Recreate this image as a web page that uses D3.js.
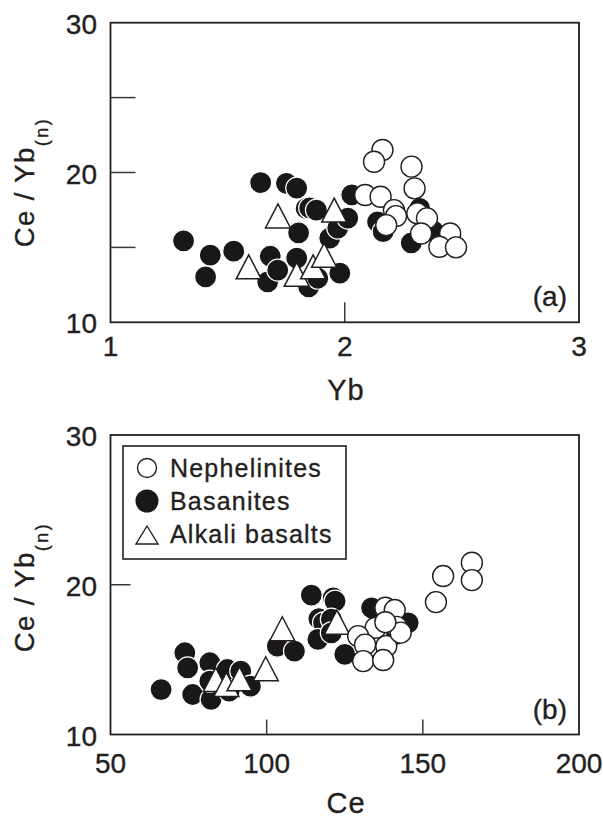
<!DOCTYPE html>
<html>
<head>
<meta charset="utf-8">
<script src="https://cdn.jsdelivr.net/npm/d3@7"></script>
<style>
  body { margin: 0; background: #fff; }
  text { font-family: "Liberation Sans", Arial, sans-serif; fill: #231f20; stroke: #231f20; stroke-width: 0.35px; }
</style>
</head>
<body>
<svg id="chart" width="603" height="818"></svg>
<script>
// panel (a): Yb vs Ce/Yb(n)
var ybNephelinites = [
  [2.161, 21.5], [2.125, 20.72], [2.087, 18.5], [2.153, 18.38], [2.285, 20.39],
  [2.298, 18.94], [2.21, 17.49], [2.219, 17.09], [2.177, 16.49], [2.31, 17.27],
  [2.351, 16.94], [2.326, 15.93], [2.45, 15.93], [2.404, 15.04], [2.475, 15.0]
];
var ybBasanites = [
  [1.312, 15.44], [1.426, 14.48], [1.406, 13.03], [1.526, 14.75], [1.641, 19.32],
  [1.751, 19.28], [1.795, 18.96], [1.835, 17.6], [1.850, 17.63], [1.879, 17.49],
  [1.803, 15.97], [1.682, 14.41], [1.671, 12.70], [1.714, 13.48], [1.795, 14.28],
  [1.846, 12.36], [1.885, 12.94], [1.979, 13.28], [1.936, 15.62], [1.970, 16.29],
  [2.013, 16.96], [2.03, 18.5], [2.14, 16.7], [2.164, 16.05], [2.284, 15.3],
  [2.32, 17.6], [2.378, 16.1]
];
var ybAlkaliBasalts = [
  [1.715, 17.1], [1.955, 17.49], [1.59, 13.7], [1.795, 13.2], [1.865, 13.7], [1.912, 14.48]
];

// panel (b): Ce vs Ce/Yb(n)
var ceNephelinites = [
  [165.7, 21.47], [165.7, 20.31], [156.5, 20.58], [154.2, 18.84], [138.0, 18.46],
  [141.0, 18.31], [134.9, 17.13], [141.6, 17.19], [129.3, 16.57], [138.3, 15.9],
  [131.5, 16.0], [130.9, 14.9], [137.3, 14.97], [142.9, 16.8], [138, 17.5]
];
var ceBasanites = [
  [66.2, 13.0], [73.8, 15.46], [74.7, 14.45], [76.3, 12.67], [81.8, 14.79],
  [82.2, 12.34], [81.8, 13.56], [87.4, 14.34], [88.0, 12.9], [91.7, 14.23],
  [94.8, 13.23], [103.4, 15.9], [108.9, 15.57], [114.3, 19.31], [121.3, 19.13],
  [121.9, 18.91], [116.7, 17.73], [118.2, 17.46], [120.7, 17.7], [116.4, 16.35],
  [120.7, 16.79], [125, 15.35], [133.6, 18.46], [145.3, 17.46], [141.6, 16.68]
];
var ceAlkaliBasalts = [
  [105.0, 17.06], [122.5, 17.5], [83.7, 13.67], [87.1, 13.34], [91.3, 13.72], [99.7, 14.39]
];

var ybTicks = [1, 2, 3];
var ceTicks = [50, 100, 150, 200];
var ratioTicks = [10, 20, 30];
var legendLabels = ["Nephelinites", "Basanites", "Alkali basalts"];

var svg = d3.select("#chart");
var ink = "#231f20";

function triPath(w, h) {
  return "M0," + (-h / 2) + "L" + (w / 2) + "," + (h / 2) + "L" + (-w / 2) + "," + (h / 2) + "Z";
}

function drawPanel(p) {
  var x = d3.scaleLinear().domain(p.xDomain).range([110.5, 579]);
  var y = d3.scaleLinear().domain([10, 30]).range([p.bottom, p.top]);
  var g = svg.append("g");

  // points: basanites, then triangles, then nephelinites on top
  g.selectAll("circle.bas").data(p.bas).enter().append("circle")
    .attr("cx", d => x(d[0])).attr("cy", d => y(d[1])).attr("r", 11)
    .attr("fill", "#1a1718").attr("stroke", "#fff").attr("stroke-width", 1.2);

  g.selectAll("path.alk").data(p.alk).enter().append("path")
    .attr("transform", d => "translate(" + x(d[0]) + "," + y(d[1]) + ")")
    .attr("d", triPath(25, 24))
    .attr("fill", "#fff").attr("stroke", ink).attr("stroke-width", 1.5).attr("stroke-linejoin", "miter");

  g.selectAll("circle.neph").data(p.neph).enter().append("circle")
    .attr("cx", d => x(d[0])).attr("cy", d => y(d[1])).attr("r", 10.5)
    .attr("fill", "#fff").attr("stroke", ink).attr("stroke-width", 1.4);

  // frame
  g.append("rect").attr("x", x.range()[0]).attr("y", p.top)
    .attr("width", x.range()[1] - x.range()[0]).attr("height", p.bottom - p.top)
    .attr("fill", "none").attr("stroke", ink).attr("stroke-width", 1.8);

  // inner ticks
  g.selectAll("line.yt").data(p.yMinor).enter().append("line")
    .attr("x1", x.range()[0]).attr("x2", x.range()[0] + p.yTickLen)
    .attr("y1", d => y(d)).attr("y2", d => y(d))
    .attr("stroke", "#3a3a3a").attr("stroke-width", 1.5);
  g.selectAll("line.xt").data(p.xMinor).enter().append("line")
    .attr("x1", d => x(d)).attr("x2", d => x(d))
    .attr("y1", p.bottom).attr("y2", p.bottom - p.xTickLen)
    .attr("stroke", "#3a3a3a").attr("stroke-width", 1.5);

  // tick labels
  g.selectAll("text.yl").data(ratioTicks).enter().append("text")
    .attr("x", 97).attr("y", d => y(d) + 11)
    .attr("text-anchor", "end").attr("font-size", 28).text(d => d);
  g.selectAll("text.xl").data(p.xTicks).enter().append("text")
    .attr("x", d => x(d)).attr("y", p.bottom + p.xLabelDy)
    .attr("text-anchor", "middle").attr("font-size", 28).text(d => d);

  // axis titles
  g.append("text").attr("x", 346).attr("y", p.bottom + 78)
    .attr("text-anchor", "middle").attr("font-size", 29).attr("letter-spacing", 1)
    .text(p.xTitle);
  var yt = g.append("text")
    .attr("transform", "translate(34," + p.yTitleMid + ") rotate(-90)")
    .attr("text-anchor", "middle").attr("font-size", 27.5).attr("letter-spacing", 1.4);
  yt.append("tspan").text("Ce / Yb");
  yt.append("tspan").attr("font-size", 18).attr("dy", 14).attr("letter-spacing", 2.5).text("(n)");

  // panel tag
  g.append("text").attr("x", 567).attr("y", p.bottom - 16)
    .attr("text-anchor", "end").attr("font-size", 28).text(p.tag);

  return { g: g, x: x, y: y };
}

drawPanel({
  xDomain: [1, 3], top: 22.7, bottom: 322.3,
  neph: ybNephelinites, bas: ybBasanites, alk: ybAlkaliBasalts,
  yMinor: [15, 20, 25], xMinor: [2], yTickLen: 25, xTickLen: 20,
  xTicks: ybTicks, xLabelDy: 34, xTitle: "Yb", yTitleMid: 182, tag: "(a)"
});

drawPanel({
  xDomain: [50, 200], top: 435, bottom: 734.5,
  neph: ceNephelinites, bas: ceBasanites, alk: ceAlkaliBasalts,
  yMinor: [20], xMinor: [100, 150], yTickLen: 20, xTickLen: 15,
  xTicks: ceTicks, xLabelDy: 38, xTitle: "Ce", yTitleMid: 587, tag: "(b)"
});

// legend
var lg = svg.append("g");
lg.append("rect").attr("x", 123).attr("y", 446).attr("width", 223).attr("height", 113)
  .attr("fill", "#fff").attr("stroke", ink).attr("stroke-width", 1.6);
lg.append("circle").attr("cx", 147).attr("cy", 468).attr("r", 9.5)
  .attr("fill", "#fff").attr("stroke", ink).attr("stroke-width", 1.4);
lg.append("circle").attr("cx", 147).attr("cy", 501).attr("r", 11.5)
  .attr("fill", "#1a1718");
lg.append("path").attr("transform", "translate(147,535)").attr("d", triPath(22, 18))
  .attr("fill", "#fff").attr("stroke", ink).attr("stroke-width", 1.4);
lg.selectAll("text").data(legendLabels).enter().append("text")
  .attr("x", 170).attr("y", (d, i) => 477 + i * 33)
  .attr("font-size", 25).attr("letter-spacing", 1.2).text(d => d);
</script>
</body>
</html>
